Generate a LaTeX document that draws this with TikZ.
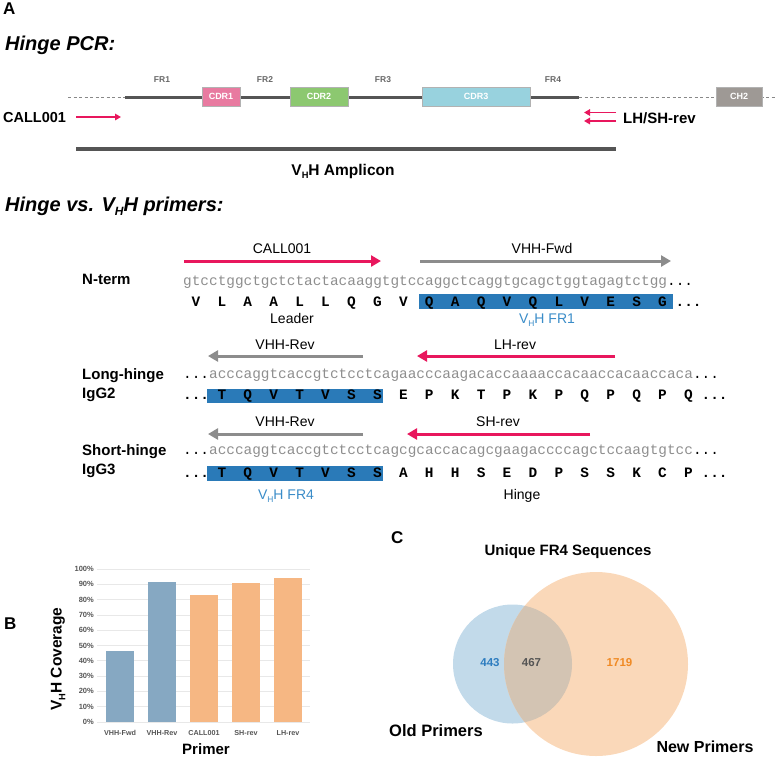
\documentclass[tikz,border=0pt]{standalone}
\usepackage{fontspec}
\usepackage{graphicx}
\setmainfont{Liberation Sans}
\setmonofont{Liberation Mono}
\usetikzlibrary{arrows.meta}
\definecolor{pinkc}{HTML}{E8175D}
\definecolor{grayarr}{HTML}{8C8C8C}
\definecolor{aabox}{HTML}{2A7AB8}
\definecolor{bluelab}{HTML}{3A8CC8}
\definecolor{cdrone}{HTML}{E87AA0}
\definecolor{cdrtwo}{HTML}{8CC870}
\definecolor{cdrthree}{HTML}{98D2DE}
\definecolor{chtwo}{HTML}{9E9995}
\definecolor{linegray}{HTML}{555555}
\definecolor{dnagray}{HTML}{8E8E8E}
\definecolor{barblue}{HTML}{86A8C2}
\definecolor{barorange}{HTML}{F6B783}
\definecolor{vennblue}{HTML}{C2DAEA}
\definecolor{vennorange}{HTML}{FAD8B9}
\definecolor{vennmix}{HTML}{D3C4B3}
\definecolor{numorange}{HTML}{F08A24}
\definecolor{numblue}{HTML}{2E7DC0}
\definecolor{numgray}{HTML}{555555}
\definecolor{ticklab}{HTML}{555555}
\definecolor{gridc}{HTML}{E8E8E8}
\newcommand{\VHsub}{V\raisebox{-0.45ex}{\scalebox{0.6}{H}}H}
\newcommand{\fs}[1]{\fontsize{#1}{#1}\selectfont}
\begin{document}
\begin{tikzpicture}[x=1pt,y=-1pt,
  txt/.style={inner sep=0pt, anchor=base},
  panel/.style={txt, font=\fs{17}\bfseries},
  header/.style={txt, anchor=base west, font=\fs{20}\bfseries\itshape},
  frlab/.style={txt, font=\fs{8.5}\bfseries, text=linegray!90},
  cdrbox/.style={draw=white!70!black, line width=0.4pt, text=white, font=\fs{9}\bfseries, inner sep=0pt},
  biglab/.style={txt, font=\fs{14.5}\bfseries},
  primlab/.style={txt, font=\fs{14}},
  pinkarr/.style={draw=pinkc, line width=3pt, -{Triangle[length=10pt,width=11pt]}},
  grayarrow/.style={draw=grayarr, line width=3pt, -{Triangle[length=10pt,width=11pt]}},
  smallarr/.style={draw=pinkc, line width=1.8pt, -{Triangle[length=6pt,width=6.5pt]}},
  dna/.style={inner sep=0pt, anchor=base west, font=\fs{14.4}\ttfamily, text=dnagray},
  aa/.style={inner sep=0pt, anchor=base, font=\fs{14.4}\ttfamily\bfseries},
  aadots/.style={inner sep=0pt, anchor=base west, font=\fs{14.4}\ttfamily\bfseries},
  hlbox/.style={fill=aabox, draw=none},
  seqlab/.style={txt, font=\fs{14}},
  ticky/.style={inner sep=0pt, anchor=east, font=\fs{7.5}\bfseries, text=ticklab},
  tickx/.style={txt, font=\fs{7.2}\bfseries, text=ticklab},
  vennnum/.style={txt, font=\fs{11.5}\bfseries}
]
\useasboundingbox (0,0) rectangle (775,756);
\def\cw{8.64}
\def\ox{183}

% ---------- Panel A: Hinge PCR ----------
\node[panel, anchor=base west] (pA) at (3,14.5) {A};
\node[header] (h1) at (5,50) {Hinge PCR:};

\coordinate (d0) at (68,97);
\coordinate (s0) at (125,97);
\coordinate (s1) at (579,97);
\coordinate (d2) at (775,97);
\draw[linegray!70, line width=0.8pt, dash pattern=on 3pt off 2.5pt] (d0) -- (s0);
\draw[linegray!70, line width=0.8pt, dash pattern=on 3pt off 2.5pt] (s1) -- (d2);
\draw[linegray, line width=3pt] (s0) -- (s1);

\node[cdrbox, fill=cdrone, minimum width=38pt, minimum height=19pt] (cdr1) at (221,96.5) {CDR1};
\node[cdrbox, fill=cdrtwo, minimum width=58pt, minimum height=19pt] (cdr2) at (319,96.5) {CDR2};
\node[cdrbox, fill=cdrthree, minimum width=108pt, minimum height=19pt] (cdr3) at (476,96.5) {CDR3};
\node[cdrbox, fill=chtwo, minimum width=46pt, minimum height=19pt] (ch2) at (739,96.5) {CH2};

\node[frlab] (fr1) at (162,82.5) {FR1};
\node[frlab] (fr2) at (265,82.5) {FR2};
\node[frlab] (fr3) at (383,82.5) {FR3};
\node[frlab] (fr4) at (553,82.5) {FR4};

\node[biglab, anchor=base west] (callA) at (3,122.5) {CALL001};
\coordinate (ca0) at (76,117);
\coordinate (ca1) at (121,117);
\draw[smallarr] (ca0) -- (ca1);

\coordinate (lr0) at (616,112.5);
\coordinate (lr1) at (584,112.5);
\coordinate (sr0) at (616,121);
\coordinate (sr1) at (584,121);
\draw[smallarr] (lr0) -- (lr1);
\draw[smallarr] (sr0) -- (sr1);
\node[biglab, anchor=base west, font=\fs{15}\bfseries] (lhsh) at (623,123) {LH/SH-rev};

\coordinate (am0) at (76,149);
\coordinate (am1) at (616,149);
\draw[linegray, line width=4pt] (am0) -- (am1);
\node[biglab, font=\fs{15.5}\bfseries] (amp) at (343,175) {\VHsub{} Amplicon};

% ---------- Hinge vs VHH primers ----------
\node[header] (h2) at (5,211) {Hinge vs. \VHsub{} primers:};

% N-term
\node[biglab, anchor=base west, font=\fs{15}\bfseries] (nterm) at (82,284.3) {N-term};
\coordinate (c0) at (184,261);
\coordinate (c1) at (381,261);
\draw[pinkarr] (c0) -- (c1);
\node[primlab] (callB) at (282,253.3) {CALL001};
\coordinate (vf0) at (420,261);
\coordinate (vf1) at (671,261);
\draw[grayarrow] (vf0) -- (vf1);
\node[primlab] (vfl) at (542,253.3) {VHH-Fwd};

\node[dna] (dna1) at (\ox,285) {gtcctggctgctctactacaaggtgtccaggctcaggtgcagctggtagagtctgg\textcolor{black}{...}};
\fill[hlbox] (419,294) rectangle (673,309);
\foreach \a [count=\i from 0] in {V,L,A,A,L,L,Q,G,V,Q,A,Q,V,Q,L,V,E,S,G}
  \node[aa] (aa1-\i) at ({\ox+(3*\i+1.5)*\cw},306) {\a};
\node[aadots] (aa1d) at ({\ox+57*\cw},306) {...};
\node[seqlab] (leader) at (292,323) {Leader};
\node[seqlab, text=bluelab] (fr1lab) at (547,323) {\VHsub{} FR1};

% Long-hinge
\node[biglab, anchor=base west, font=\fs{15}\bfseries] (lh) at (82,379.3) {Long-hinge};
\node[biglab, anchor=base west, font=\fs{15}\bfseries] (igg2) at (82,398) {IgG2};
\coordinate (vr0) at (363,356);
\coordinate (vr1) at (208,356);
\draw[grayarrow] (vr0) -- (vr1);
\node[primlab] (vrl) at (285,349) {VHH-Rev};
\coordinate (lhr0) at (615,356);
\coordinate (lhr1) at (417,356);
\draw[pinkarr] (lhr0) -- (lhr1);
\node[primlab] (lhrl) at (515,349) {LH-rev};

\node[dna] (dna2) at (\ox,378.5) {\textcolor{black}{...}acccaggtcaccgtctcctcagaacccaagacaccaaaaccacaaccacaaccaca\textcolor{black}{...}};
\fill[hlbox] (207,389) rectangle (383,403);
\node[aadots] (aa2s) at (\ox,399.5) {...};
\foreach \a [count=\i from 0] in {T,Q,V,T,V,S,S,E,P,K,T,P,K,P,Q,P,Q,P,Q}
  \node[aa] (aa2-\i) at ({\ox+(3*\i+4.5)*\cw},399.5) {\a};
\node[aadots] (aa2d) at ({\ox+60*\cw},399.5) {...};

% Short-hinge
\node[biglab, anchor=base west, font=\fs{15}\bfseries] (sh) at (82,455) {Short-hinge};
\node[biglab, anchor=base west, font=\fs{15}\bfseries] (igg3) at (82,474) {IgG3};
\coordinate (vs0) at (363,434);
\coordinate (vs1) at (208,434);
\draw[grayarrow] (vs0) -- (vs1);
\node[primlab] (vsl) at (285,426.5) {VHH-Rev};
\coordinate (shr0) at (590,434);
\coordinate (shr1) at (407,434);
\draw[pinkarr] (shr0) -- (shr1);
\node[primlab] (shrl) at (498,426.5) {SH-rev};

\node[dna] (dna3) at (\ox,454) {\textcolor{black}{...}acccaggtcaccgtctcctcagcgcaccacagcgaagaccccagctccaagtgtcc\textcolor{black}{...}};
\fill[hlbox] (207,466) rectangle (383,481);
\node[aadots] (aa3s) at (\ox,477.5) {...};
\foreach \a [count=\i from 0] in {T,Q,V,T,V,S,S,A,H,H,S,E,D,P,S,S,K,C,P}
  \node[aa] (aa3-\i) at ({\ox+(3*\i+4.5)*\cw},477.5) {\a};
\node[aadots] (aa3d) at ({\ox+60*\cw},477.5) {...};
\node[seqlab, text=bluelab] (fr4lab) at (286,499) {\VHsub{} FR4};
\node[seqlab] (hinge) at (522,499) {Hinge};

% ---------- Panel B ----------
\node[panel, anchor=base west] (pB) at (4,629) {B};
\foreach \v in {0,10,...,100}{
  \draw[gridc, line width=0.8pt] (97,{722-1.53*\v}) -- (310,{722-1.53*\v});
  \node[ticky] at (94,{722-1.53*\v}) {\v\%};
}
\fill[barblue] (106,722) rectangle (134,{722-1.53*46.5});
\fill[barblue] (148,722) rectangle (176,{722-1.53*91.5});
\fill[barorange] (190,722) rectangle (218,{722-1.53*83});
\fill[barorange] (232,722) rectangle (260,{722-1.53*91});
\fill[barorange] (274,722) rectangle (302,{722-1.53*94});
\node[tickx] (t1) at (120,735) {VHH-Fwd};
\node[tickx] (t2) at (162,735) {VHH-Rev};
\node[tickx] (t3) at (204,735) {CALL001};
\node[tickx] (t4) at (246,735) {SH-rev};
\node[tickx] (t5) at (288,735) {LH-rev};
\node[biglab, font=\fs{15}\bfseries] (primer) at (206,754) {Primer};
\node[inner sep=0pt, rotate=90, font=\fs{15.5}\bfseries] (ytitle) at (58,659) {\VHsub{} Coverage};

% ---------- Panel C ----------
\node[panel, anchor=base west] (pC) at (391,543.3) {C};
\node[biglab, font=\fs{15}\bfseries] (vtitle) at (568,555) {Unique FR4 Sequences};
\coordinate (oc) at (512.5,664);
\coordinate (nc) at (596,664);
\fill[vennblue] (oc) circle (59.5);
\fill[vennorange] (nc) circle (92);
\begin{scope}
  \clip (oc) circle (59.5);
  \fill[vennmix] (nc) circle (92);
\end{scope}
\node[vennnum, text=numblue] (n443) at (490,666.5) {443};
\node[vennnum, text=numgray] (n467) at (531.5,666.5) {467};
\node[vennnum, text=numorange] (n1719) at (619.5,666.5) {1719};
\node[biglab, font=\fs{16.5}\bfseries] (old) at (436,736) {Old Primers};
\node[biglab, font=\fs{16}\bfseries] (new) at (705,752.5) {New Primers};
\end{tikzpicture}
\end{document}
